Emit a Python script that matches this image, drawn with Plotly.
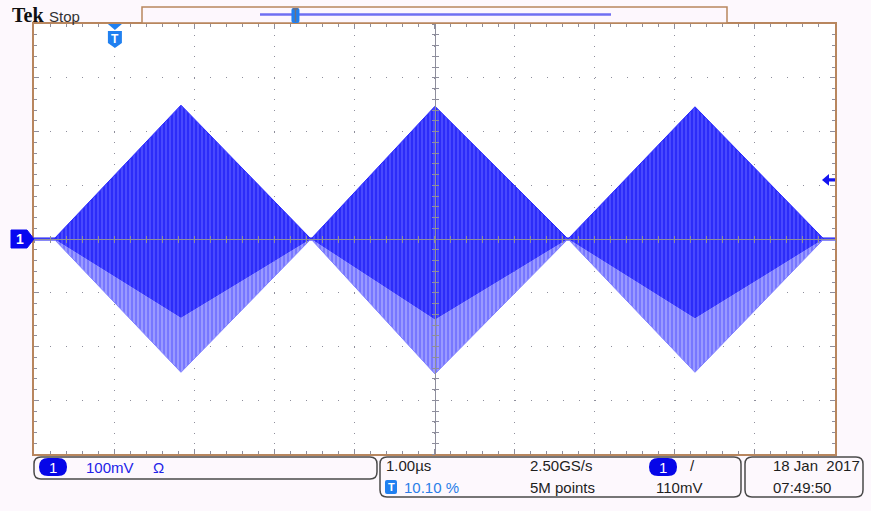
import plotly.graph_objects as go

# ---------------- data read from the screen ----------------
# envelope breakpoints of the channel-1 burst (time in µs, level in mV)
env_t = [-1.01, -0.76, 0.825, 2.448, 3.996, 5.657, 7.242, 8.85, 8.99]
env_top = [0, 0, 249, 0, 247, 0, 246, 0, 0]
env_inner = [0, 0, -147, 0, -150, 0, -148, 0, 0]
env_bot = [0, 0, -248, 0, -251, 0, -248, 0, 0]

time_range = [-1.01, 8.99]      # 1.00 µs/div, trigger at 10.10 %
volt_range = [-400, 400]        # 100 mV/div
time_div = 1.0
volt_div = 100
trig_time = 0.0
trig_pos_pct = 10.10
trig_level = 110                # mV

ch_scale = "100mV"
timebase = "1.00µs"
sample_rate = "2.50GS/s"
record_len = "5M points"
trig_level_txt = "110mV"
trig_pos_txt = "10.10 %"
date_txt = "18 Jan  2017"
time_txt = "07:49:50"

# ---------------- geometry helpers (screen pixels -> paper) ----------------
W, H = 871, 511
L, R, T, B = 34, 835, 24, 454
PW, PH = R - L, B - T


def X(px):
    return (px - L) / PW


def Y(py):
    return (B - py) / PH


def path(pts, close=True):
    s = "M " + " L ".join(f"{X(a):.5f},{Y(b):.5f}" for a, b in pts)
    return s + (" Z" if close else "")


def rrect(x0, y0, x1, y1, r):
    def p(a, b):
        return f"{X(a):.5f},{Y(b):.5f}"
    return (f"M {p(x0 + r, y0)} L {p(x1 - r, y0)} Q {p(x1, y0)} {p(x1, y0 + r)} "
            f"L {p(x1, y1 - r)} Q {p(x1, y1)} {p(x1 - r, y1)} L {p(x0 + r, y1)} "
            f"Q {p(x0, y1)} {p(x0, y1 - r)} L {p(x0, y0 + r)} Q {p(x0, y0)} {p(x0 + r, y0)} Z")


def t2px(t):
    return L + (t - time_range[0]) / (time_range[1] - time_range[0]) * PW


def v2py(v):
    return B - (v - volt_range[0]) / (volt_range[1] - volt_range[0]) * PH


# ---------------- colours ----------------
bg = "#fdf8fd"
frame = "#b8865e"
grid = "#8e8e9c"
ch1 = "#1414f0"
tblue = "#2080f0"
txt = "#1e1e1e"
font_fam = "Liberation Sans, Arial, sans-serif"

fig = go.Figure()

# baseline of the trace (flat parts)
fig.add_trace(go.Scatter(x=env_t, y=[0] * len(env_t), mode="lines",
                         line=dict(color=ch1, width=3), hoverinfo="skip", showlegend=False))
# lower (lighter) envelope band
fig.add_trace(go.Scatter(x=env_t, y=env_bot, mode="lines",
                         line=dict(color="#8080ff", width=1), hoverinfo="skip", showlegend=False))
fig.add_trace(go.Scatter(x=env_t, y=env_inner, mode="lines", fill="tonexty",
                         line=dict(color="rgba(0,0,0,0)", width=0),
                         fillcolor="#9898ff",
                         fillpattern=dict(shape="|", size=4, solidity=0.45,
                                          bgcolor="#9a9aff", fgcolor="#4c4cff"),
                         hoverinfo="skip", showlegend=False))
# upper (dense) envelope band
fig.add_trace(go.Scatter(x=env_t, y=env_top, mode="lines", fill="tonexty",
                         line=dict(color="#2a2aff", width=1),
                         fillcolor="#4848ff",
                         fillpattern=dict(shape="|", size=4, solidity=0.55,
                                          bgcolor="#4c4cff", fgcolor="#0c0cf4"),
                         hoverinfo="skip", showlegend=False))
# dummy traces so the centre-cross axes get drawn
fig.add_trace(go.Scatter(x=[None], y=[None], xaxis="x2", yaxis="y2", showlegend=False, hoverinfo="skip"))
fig.add_trace(go.Scatter(x=[None], y=[None], xaxis="x3", yaxis="y3", showlegend=False, hoverinfo="skip"))

xdot = f"1px,{PH / 40 - 1:.3f}px"
ydot = f"1px,{PW / 50 - 1:.3f}px"

xcommon = dict(range=time_range, tick0=time_range[0], dtick=time_div, showticklabels=False,
               zeroline=False, fixedrange=True)
ycommon = dict(range=volt_range, tick0=volt_range[0], dtick=volt_div, showticklabels=False,
               zeroline=False, fixedrange=True)

fig.update_layout(
    width=W, height=H, autosize=False,
    margin=dict(l=L, r=W - R, t=T, b=H - B, pad=0),
    paper_bgcolor=bg, plot_bgcolor="white",
    showlegend=False,
    xaxis=dict(**xcommon, showgrid=True, gridcolor=grid, gridwidth=1, griddash=xdot,
               showline=True, linecolor=frame, linewidth=2, mirror="ticks",
               ticks="inside", ticklen=5, tickcolor=grid, tickwidth=1,
               minor=dict(dtick=time_div / 5, tick0=time_range[0], ticks="inside",
                          ticklen=3, tickcolor=grid, showgrid=False)),
    yaxis=dict(**ycommon, showgrid=True, gridcolor=grid, gridwidth=1, griddash=ydot,
               showline=True, linecolor=frame, linewidth=2, mirror="ticks",
               ticks="inside", ticklen=5, tickcolor=grid, tickwidth=1,
               minor=dict(dtick=volt_div / 5, tick0=volt_range[0], ticks="inside",
                          ticklen=3, tickcolor=grid, showgrid=False)),
    xaxis2=dict(**xcommon, overlaying="x", anchor="free", position=0.5, showgrid=False,
                showline=True, linecolor=grid, linewidth=1, ticks="outside", ticklen=3,
                tickcolor=grid, minor=dict(dtick=time_div / 5, tick0=time_range[0],
                                           ticks="outside", ticklen=3, tickcolor=grid)),
    xaxis3=dict(**xcommon, overlaying="x", anchor="free", position=0.5, showgrid=False,
                showline=False, ticks="inside", ticklen=3,
                tickcolor=grid, minor=dict(dtick=time_div / 5, tick0=time_range[0],
                                           ticks="inside", ticklen=3, tickcolor=grid)),
    yaxis2=dict(**ycommon, overlaying="y", anchor="free", position=0.5, showgrid=False,
                showline=True, linecolor=grid, linewidth=1, ticks="outside", ticklen=3,
                tickcolor=grid, minor=dict(dtick=volt_div / 5, tick0=volt_range[0],
                                           ticks="outside", ticklen=3, tickcolor=grid)),
    yaxis3=dict(**ycommon, overlaying="y", anchor="free", position=0.5, showgrid=False,
                showline=False, ticks="inside", ticklen=3,
                tickcolor=grid, minor=dict(dtick=volt_div / 5, tick0=volt_range[0],
                                           ticks="inside", ticklen=3, tickcolor=grid)),
)

shapes = []
# record view box at top
shapes.append(dict(type="rect", xref="paper", yref="paper", x0=X(142), x1=X(727), y0=Y(23), y1=Y(7),
                   line=dict(color=frame, width=1.5), fillcolor="#fdf7fd", layer="above"))
rv0, rv1 = 260, 611
shapes.append(dict(type="line", xref="paper", yref="paper", x0=X(rv0), x1=X(rv1), y0=Y(14.5), y1=Y(14.5),
                   line=dict(color="#6f6ff2", width=2.5), layer="above"))
rt = rv0 + trig_pos_pct / 100 * (rv1 - rv0)
shapes.append(dict(type="path", xref="paper", yref="paper",
                   path=rrect(rt - 4, 8, rt + 4, 23, 2), fillcolor=tblue, line=dict(width=0), layer="above"))
shapes.append(dict(type="path", xref="paper", yref="paper",
                   path=path([(rt - 2.5, 9), (rt + 2.5, 9), (rt, 9), (rt, 22)], close=False),
                   line=dict(color="#707080", width=1.5), layer="above"))

# trigger position marker (T) at top of graticule
tx = t2px(trig_time)
shapes.append(dict(type="path", xref="paper", yref="paper",
                   path=path([(tx - 7, 24), (tx + 7, 24), (tx, 30)]),
                   fillcolor=tblue, line=dict(width=0), layer="above"))
shapes.append(dict(type="path", xref="paper", yref="paper",
                   path=path([(tx - 7, 31), (tx + 7, 31), (tx + 7, 43), (tx, 48), (tx - 7, 43)]),
                   fillcolor=tblue, line=dict(width=0), layer="above"))

# channel 1 ground marker
gy = v2py(0)
shapes.append(dict(type="path", xref="paper", yref="paper",
                   path=path([(11, gy - 9), (27, gy - 9), (34, gy), (27, gy + 9), (11, gy + 9)]),
                   fillcolor="#0808f0", line=dict(color="#0808f0", width=1), layer="above"))

# trigger level arrow at right edge
ly = v2py(trig_level)
shapes.append(dict(type="path", xref="paper", yref="paper",
                   path=path([(822, ly), (829, ly - 6), (829, ly - 1.5), (835, ly - 1.5),
                              (835, ly + 1.5), (829, ly + 1.5), (829, ly + 6)]),
                   fillcolor=ch1, line=dict(width=0), layer="above"))

# status bar boxes
for (a, b, c, d) in [(34, 457, 377, 479), (380, 457, 741, 497), (745, 457, 863, 497)]:
    shapes.append(dict(type="path", xref="paper", yref="paper", path=rrect(a, b, c, d, 7),
                       line=dict(color="#4a4a4a", width=1.5), fillcolor="rgba(0,0,0,0)", layer="above"))
# channel pills
for (a, b, c, d) in [(39, 458, 67, 476), (649, 458, 677, 476)]:
    shapes.append(dict(type="path", xref="paper", yref="paper", path=rrect(a, b, c, d, 9),
                       line=dict(width=0), fillcolor="#0606e8", layer="above"))
# T icon in status bar
shapes.append(dict(type="path", xref="paper", yref="paper", path=rrect(385, 480, 397, 494, 2),
                   line=dict(width=0), fillcolor=tblue, layer="above"))

fig.update_layout(shapes=shapes)

ann = []


def add_text(text, px, py, color=txt, size=15, family=font_fam, xanchor="left"):
    ann.append(dict(text=text, x=X(px), y=Y(py), xref="paper", yref="paper", showarrow=False,
                    xanchor=xanchor, yanchor="middle", font=dict(color=color, size=size, family=family)))


add_text("<b>Tek</b>", 10, 15, color="#101010", size=20, family="Liberation Serif, serif")
add_text("Stop", 47, 16, color="#333333", size=15)
add_text("<b>T</b>", tx, 39, color="white", size=12, xanchor="center")
add_text("<b>1</b>", 20, gy, color="white", size=14, xanchor="center")
add_text("1", 53, 467, color="white", size=15, xanchor="center")
add_text(ch_scale, 84, 467, color="#2222e8", size=15)
add_text("Ω", 151, 467, color="#2222e8", size=15)
add_text(timebase, 384, 466)
add_text(sample_rate, 528, 466)
add_text("1", 663, 467, color="white", size=15, xanchor="center")
add_text("/", 688, 465)
add_text("<b>T</b>", 391, 487, color="white", size=11, xanchor="center")
add_text(trig_pos_txt, 402, 487, color="#2a7ee8")
add_text(record_len, 528, 487)
add_text(trig_level_txt, 654, 487)
add_text(date_txt, 771, 466)
add_text(time_txt, 771, 487)

fig.update_layout(annotations=ann)

fig.write_html("out.html",
               config={"displayModeBar": False, "staticPlot": True},
               post_script="document.body.style.margin='0';document.body.style.padding='0';"
                           "document.body.style.background='#fdf8fd';")
